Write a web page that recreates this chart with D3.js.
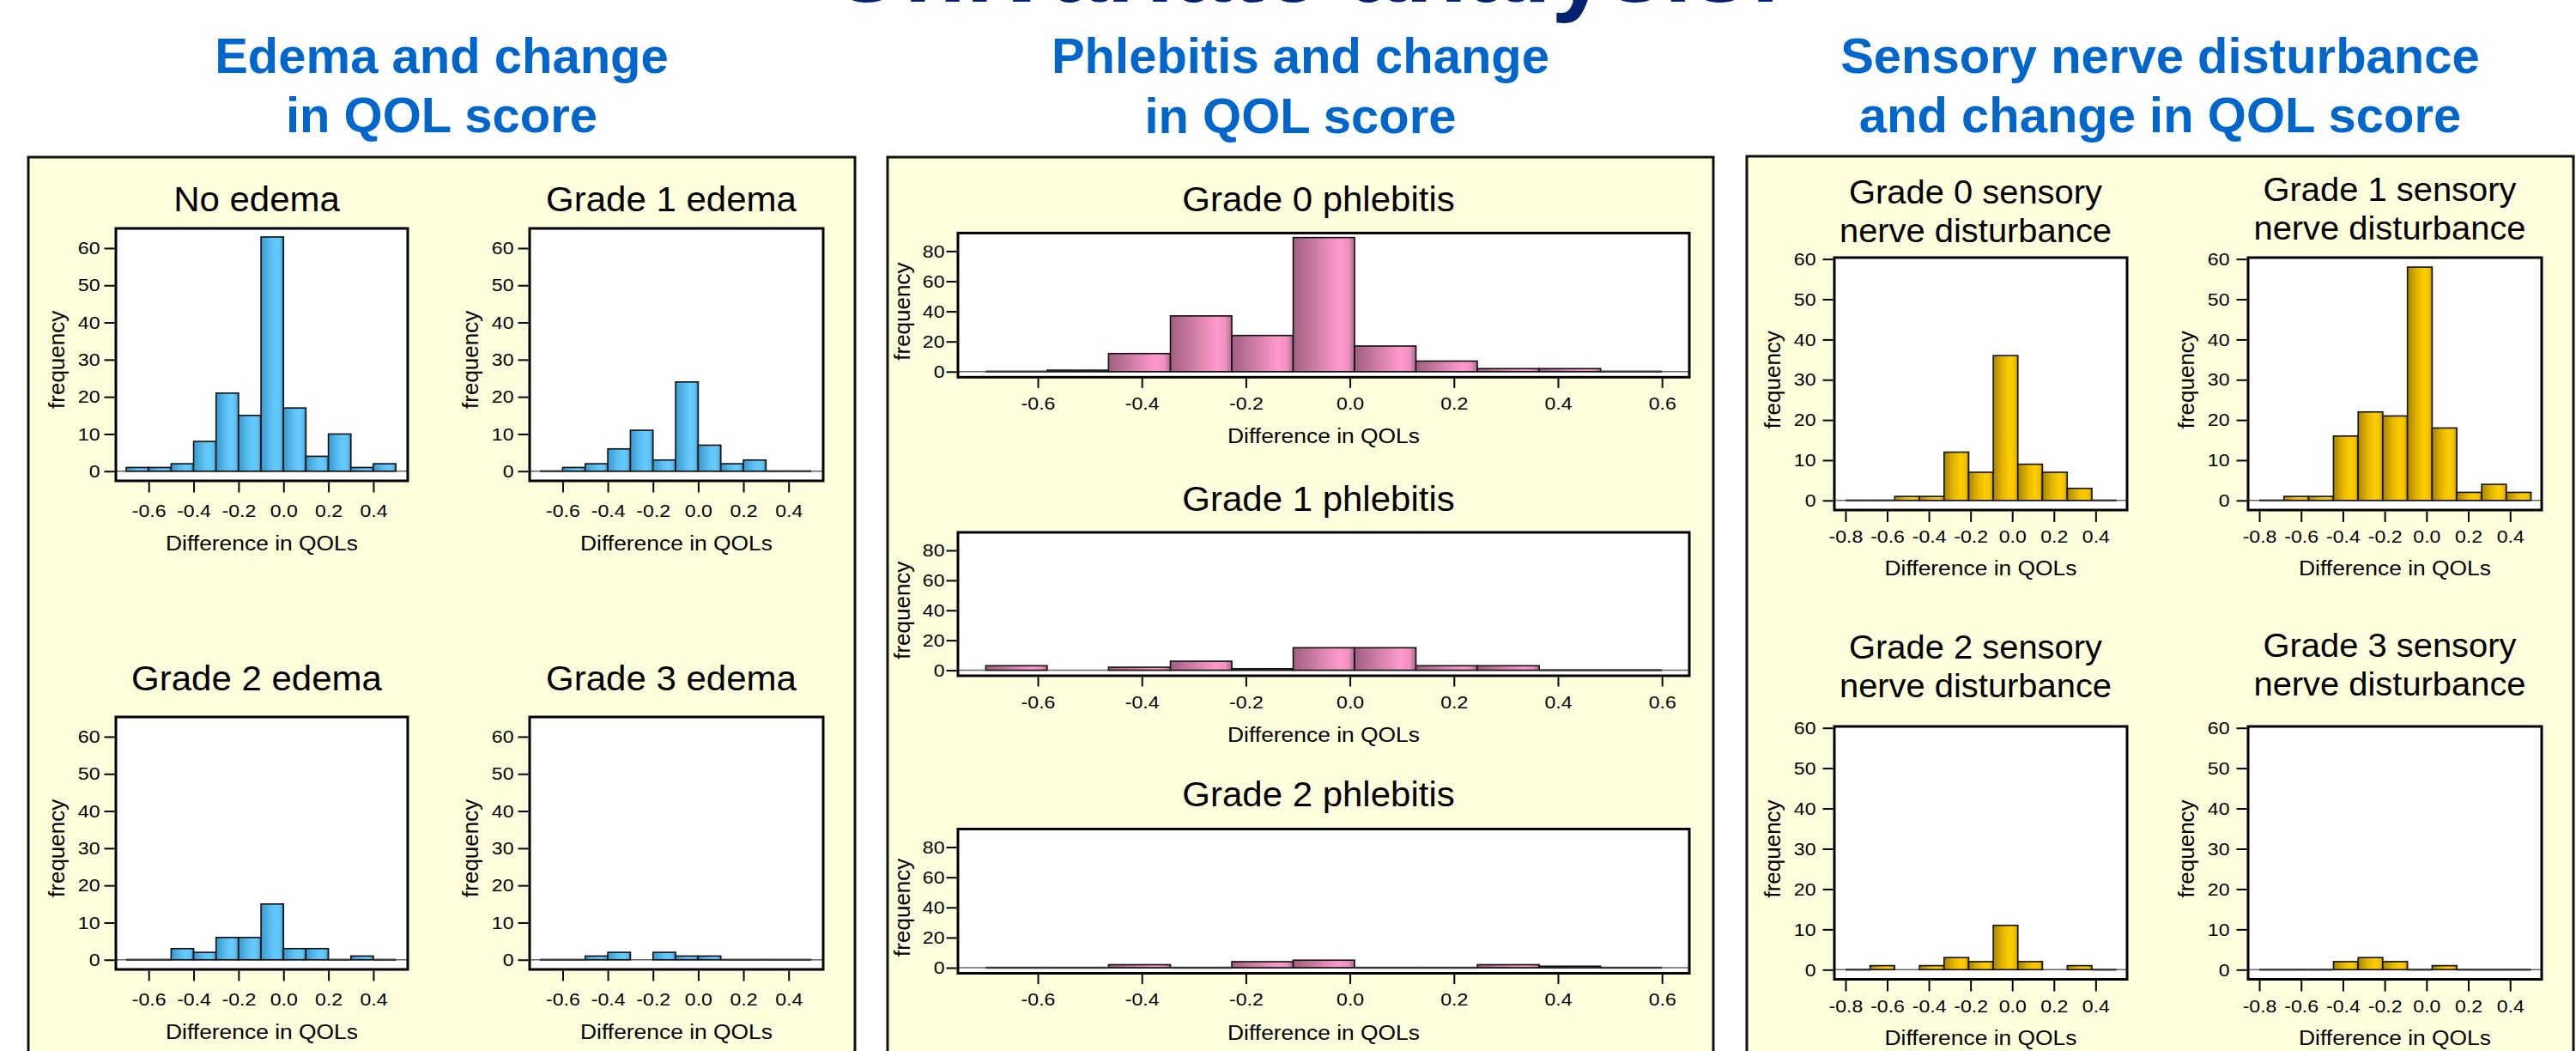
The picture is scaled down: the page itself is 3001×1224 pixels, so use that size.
<!DOCTYPE html>
<html>
<head>
<meta charset="utf-8">
<script src="https://cdn.jsdelivr.net/npm/d3@7"></script>
<style>
  html, body { margin: 0; padding: 0; background: #ffffff; }
  svg { display: block; }
  text { font-family: "Liberation Sans", Arial, Helvetica, sans-serif; }
</style>
</head>
<body>
<svg id="chart" width="3001" height="1224"></svg>
<script>
// ---------------- DATA ----------------
const mainTitle = "Univariate analysis:";
const edemaSectionTitle = ["Edema and change", "in QOL score"];
const phlebitisSectionTitle = ["Phlebitis and change", "in QOL score"];
const sensorySectionTitle = ["Sensory nerve disturbance", "and change in QOL score"];

const xAxisLabel = "Difference in QOLs";
const yAxisLabel = "frequency";

// bin edges (difference in QOLs)
const edemaBinEdges = [-0.7, -0.6, -0.5, -0.4, -0.3, -0.2, -0.1, 0.0, 0.1, 0.2, 0.3, 0.4, 0.5];
const phlebitisBinEdges = [-0.7, -0.582, -0.464, -0.345, -0.227, -0.109, 0.009, 0.127, 0.245, 0.364, 0.482, 0.6];
const sensoryBinEdges = [-0.8, -0.682, -0.564, -0.445, -0.327, -0.209, -0.091, 0.027, 0.145, 0.264, 0.382, 0.5];

// frequencies per bin (null = no bar drawn)
const noEdema       = [1, 1, 2, 8, 21, 15, 63, 17, 4, 10, 1, 2];
const grade1Edema   = [0, 1, 2, 6, 11, 3, 24, 7, 2, 3, 0, 0];
const grade2Edema   = [0, 0, 3, 2, 6, 6, 15, 3, 3, 0, 1, 0];
const grade3Edema   = [0, 0, 1, 2, null, 2, 1, 1, 0, 0, 0, 0];

const grade0Phlebitis = [0, 1, 12, 37, 24, 89, 17, 7, 2, 2, 0];
const grade1Phlebitis = [3, null, 2, 6, 1, 15, 15, 3, 3, 0, 0];
const grade2Phlebitis = [0, 0, 2, 0, 4, 5, 0, 0, 2, 1, 0];

const grade0Sensory = [0, 0, 1, 1, 12, 7, 36, 9, 7, 3, 0];
const grade1Sensory = [0, 1, 1, 16, 22, 21, 58, 18, 2, 4, 2];
const grade2Sensory = [0, 1, null, 1, 3, 2, 11, 2, null, 1, 0];
const grade3Sensory = [0, 0, 0, 2, 3, 2, 0, 1, 0, 0, 0];

// tick values
const edemaXTicks = [-0.6, -0.4, -0.2, 0.0, 0.2, 0.4];
const phlebitisXTicks = [-0.6, -0.4, -0.2, 0.0, 0.2, 0.4, 0.6];
const sensoryXTicks = [-0.8, -0.6, -0.4, -0.2, 0.0, 0.2, 0.4];
const edemaYTicks = [0, 10, 20, 30, 40, 50, 60];
const phlebitisYTicks = [0, 20, 40, 60, 80];
const sensoryYTicks = [0, 10, 20, 30, 40, 50, 60];

// panel titles
const edemaTitles = [["No edema"], ["Grade 1 edema"], ["Grade 2 edema"], ["Grade 3 edema"]];
const phlebitisTitles = [["Grade 0 phlebitis"], ["Grade 1 phlebitis"], ["Grade 2 phlebitis"]];
const sensoryTitles = [
  ["Grade 0 sensory", "nerve disturbance"],
  ["Grade 1 sensory", "nerve disturbance"],
  ["Grade 2 sensory", "nerve disturbance"],
  ["Grade 3 sensory", "nerve disturbance"]
];

// ---------------- LAYOUT ----------------
const svg = d3.select("#chart");
const FONT_STRETCH = 1.1;
const TITLE_STRETCH = 1.05;

const defs = svg.append("defs");
function addGradient(id, stops) {
  const g = defs.append("linearGradient").attr("id", id)
    .attr("x1", "0%").attr("x2", "100%").attr("y1", "0%").attr("y2", "0%");
  stops.forEach(s => g.append("stop").attr("offset", s[0]).attr("stop-color", s[1]));
}
addGradient("gBlue", [["0%", "#3a98cc"], ["45%", "#5cc0f2"], ["70%", "#66ccff"], ["88%", "#5ebfef"], ["100%", "#2a7aa8"]]);
addGradient("gPink", [["0%", "#a0607f"], ["45%", "#d883ae"], ["75%", "#ff99cc"], ["90%", "#f090c0"], ["100%", "#a86a8a"]]);
addGradient("gGold", [["0%", "#a88400"], ["40%", "#e6b800"], ["68%", "#ffcc00"], ["88%", "#f2c200"], ["100%", "#a88400"]]);

// main title (cut at top of picture)
svg.append("text")
  .attr("x", 1522).attr("y", 2)
  .attr("text-anchor", "middle")
  .attr("font-size", 118).attr("font-weight", "bold")
  .attr("fill", "#002270")
  .text(mainTitle);

function stretchedText(parent, x, y, str, size, sx, anchor, extra) {
  const t = parent.append("text")
    .attr("transform", `translate(${x},${y}) scale(${sx},1)`)
    .attr("text-anchor", anchor || "middle")
    .attr("font-size", size)
    .attr("fill", "#000")
    .text(str);
  return t;
}

const sections = [
  { title: edemaSectionTitle, box: [33, 183, 996], titleY: [85, 154] },
  { title: phlebitisSectionTitle, box: [1034, 183, 1996], titleY: [85, 154.5] },
  { title: sensorySectionTitle, box: [2035, 182, 2998], titleY: [85, 154] }
];

sections.forEach(s => {
  const [x0, y0, x1] = s.box;
  svg.append("rect")
    .attr("x", x0).attr("y", y0)
    .attr("width", x1 - x0).attr("height", 1224 - y0 + 20)
    .attr("fill", "#ffffdd").attr("stroke", "#111").attr("stroke-width", 3);
  s.title.forEach((line, i) => {
    svg.append("text")
      .attr("x", (x0 + x1) / 2).attr("y", s.titleY[i])
      .attr("text-anchor", "middle")
      .attr("font-size", 58).attr("font-weight", "bold")
      .attr("fill", "#0066cc")
      .text(line);
  });
});

const edemaStyle = {
  edges: edemaBinEdges, xDomain: [-0.746, 0.553], yDomain: [-2.6, 65.3],
  xTicks: edemaXTicks, yTicks: edemaYTicks, fill: "url(#gBlue)",
  xTickSize: 12, xTickPad: 14, yTickSize: 12, yTickPad: 5,
  freqOffset: 60, labelOffset: 81, titleSize: 40, titleGap: 46
};
const phlebitisStyle = {
  edges: phlebitisBinEdges, xDomain: [-0.7535, 0.6525], yDomain: [-3.7, 92],
  xTicks: phlebitisXTicks, yTicks: phlebitisYTicks, fill: "url(#gPink)",
  xTickSize: 11, xTickPad: 10.5, yTickSize: 12, yTickPad: 2,
  freqOffset: 56, labelOffset: 77, titleSize: 40, titleGap: 46
};
const sensoryStyle = {
  edges: sensoryBinEdges, xDomain: [-0.8535, 0.551], yDomain: [-2.39, 60.36],
  xTicks: sensoryXTicks, yTicks: sensoryYTicks, fill: "url(#gGold)",
  xTickSize: 12.5, xTickPad: 9.5, yTickSize: 12, yTickPad: 8,
  freqOffset: 63, labelOffset: 76, titleSize: 38, titleGap: 45.4
};

const panels = [
  { st: edemaStyle, data: noEdema,     title: edemaTitles[0], x: [135, 475], y: [266, 560], ty: 245.7 },
  { st: edemaStyle, data: grade1Edema, title: edemaTitles[1], x: [617, 959], y: [266, 560], ty: 245.7 },
  { st: edemaStyle, data: grade2Edema, title: edemaTitles[2], x: [135, 475], y: [835, 1129], ty: 803.7 },
  { st: edemaStyle, data: grade3Edema, title: edemaTitles[3], x: [617, 959], y: [835, 1129], ty: 803.7 },

  { st: phlebitisStyle, data: grade0Phlebitis, title: phlebitisTitles[0], x: [1116, 1968], y: [271.4, 439.3], ty: 246.4 },
  { st: phlebitisStyle, data: grade1Phlebitis, title: phlebitisTitles[1], x: [1116, 1968], y: [620, 787], ty: 594.5 },
  { st: phlebitisStyle, data: grade2Phlebitis, title: phlebitisTitles[2], x: [1116, 1968], y: [965.5, 1133.5], ty: 939.2 },

  { st: sensoryStyle, data: grade0Sensory, title: sensoryTitles[0], x: [2137, 2478], y: [300, 594], ty: 236.6 },
  { st: sensoryStyle, data: grade1Sensory, title: sensoryTitles[1], x: [2619, 2961], y: [300, 594], ty: 234 },
  { st: sensoryStyle, data: grade2Sensory, title: sensoryTitles[2], x: [2137, 2478], y: [846, 1140.5], ty: 766.8 },
  { st: sensoryStyle, data: grade3Sensory, title: sensoryTitles[3], x: [2619, 2961], y: [846, 1140.5], ty: 765 }
];

panels.forEach(p => {
  const st = p.st;
  const xs = d3.scaleLinear().domain(st.xDomain).range(p.x);
  const ys = d3.scaleLinear().domain(st.yDomain).range([p.y[1], p.y[0]]);
  const g = svg.append("g");
  const [L, R] = p.x, [T, B] = p.y;

  // title
  const cx = (L + R) / 2 - 6;
  p.title.forEach((line, i) => {
    stretchedText(g, cx, p.ty + i * st.titleGap, line, st.titleSize, TITLE_STRETCH);
  });

  // plot background
  g.append("rect").attr("x", L).attr("y", T).attr("width", R - L).attr("height", B - T)
    .attr("fill", "#ffffff");

  // zero reference line
  g.append("line")
    .attr("x1", L).attr("x2", R)
    .attr("y1", ys(0)).attr("y2", ys(0))
    .attr("stroke", "#666").attr("stroke-width", 1.6);

  // bars
  const bins = p.data.map((v, i) => ({ v: v, a: st.edges[i], b: st.edges[i + 1] }));
  g.selectAll("rect.bar")
    .data(bins.filter(d => d.v !== null && d.v > 0))
    .enter().append("rect").attr("class", "bar")
    .attr("x", d => xs(d.a))
    .attr("width", d => xs(d.b) - xs(d.a))
    .attr("y", d => ys(d.v))
    .attr("height", d => ys(0) - ys(d.v))
    .attr("fill", st.fill)
    .attr("stroke", "#111").attr("stroke-width", 1.6);

  g.selectAll("line.zero")
    .data(bins.filter(d => d.v === 0))
    .enter().append("line").attr("class", "zero")
    .attr("x1", d => xs(d.a)).attr("x2", d => xs(d.b))
    .attr("y1", ys(0)).attr("y2", ys(0))
    .attr("stroke", "#3a3a3a").attr("stroke-width", 2.4);

  // frame
  g.append("rect").attr("x", L).attr("y", T).attr("width", R - L).attr("height", B - T)
    .attr("fill", "none").attr("stroke", "#000").attr("stroke-width", 3);

  // x axis
  const xAxis = d3.axisBottom(xs).tickValues(st.xTicks)
    .tickFormat(d3.format(".1f"))
    .tickSize(st.xTickSize).tickSizeOuter(0).tickPadding(st.xTickPad);
  const xg = g.append("g").attr("transform", `translate(0,${B + 1.5})`).call(xAxis);
  xg.select(".domain").remove();
  xg.selectAll(".tick line").attr("stroke", "#000").attr("stroke-width", 2);
  xg.selectAll(".tick text")
    .attr("font-size", 21).attr("fill", "#000")
    .attr("font-family", "'Liberation Sans', Arial, sans-serif")
    .attr("transform", `scale(${FONT_STRETCH},1)`)
    .text(d => d3.format(".1f")(d).replace("−", "-"));

  // y axis
  const yAxis = d3.axisLeft(ys).tickValues(st.yTicks)
    .tickSize(st.yTickSize).tickSizeOuter(0).tickPadding(st.yTickPad);
  const yg = g.append("g").attr("transform", `translate(${L - 1.5},0)`).call(yAxis);
  yg.select(".domain").remove();
  yg.selectAll(".tick line").attr("stroke", "#000").attr("stroke-width", 2);
  yg.selectAll(".tick text")
    .attr("font-size", 21).attr("fill", "#000")
    .attr("font-family", "'Liberation Sans', Arial, sans-serif")
    .attr("x", -(st.yTickSize + st.yTickPad) / FONT_STRETCH)
    .attr("transform", `scale(${FONT_STRETCH},1)`);

  // axis labels
  stretchedText(g, (L + R) / 2, B + st.labelOffset, xAxisLabel, 24, FONT_STRETCH);
  const yMid = (ys(st.yTicks[0]) + ys(st.yTicks[st.yTicks.length - 1])) / 2;
  g.append("text")
    .attr("transform", `translate(${L - st.freqOffset},${yMid}) rotate(-90)`)
    .attr("text-anchor", "middle")
    .attr("font-size", 26).attr("fill", "#000")
    .text(yAxisLabel);
});
</script>
</body>
</html>
